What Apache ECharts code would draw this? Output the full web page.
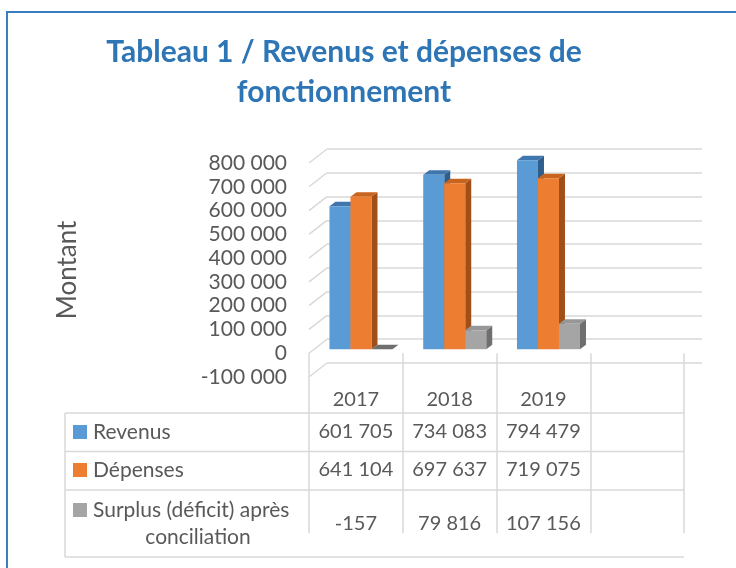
<!DOCTYPE html>
<html>
<head>
<meta charset="utf-8">
<title>Revenus et dépenses de fonctionnement</title>
<script src="https://cdn.jsdelivr.net/npm/echarts@6/dist/echarts.min.js"></script>
<style>
html, body { margin: 0; padding: 0; background: #fff; }
#chart { width: 736px; height: 568px; }
</style>
</head>
<body>
<div id="chart"></div>
<script>
// données du tableau
var years = ['2017', '2018', '2019', ''];
var revenus = [601705, 734083, 794479, null];
var depenses = [641104, 697637, 719075, null];
var surplus = [-157, 79816, 107156, null];
var yTicks = [-100000, 0, 100000, 200000, 300000, 400000, 500000, 600000, 700000, 800000];
var rowNames = ['Revenus', 'Dépenses', 'Surplus (déficit) après conciliation'];

var colors = ['#5b9bd5', '#ed7d31', '#a5a5a5'];
var tops = ['#3f76ad', '#c9641f', '#979797'];
var sides = ['#2f5e8d', '#a04f19', '#6f6f6f'];
var txt = '#595959';
var gridCol = '#d9d9d9';
var font = 'Lato';

// décalage 3D (face avant des barres, profondeur des barres)
var shiftX = -12.9, shiftY = 10;
var capX = 6, capY = -4.5;

function fmt(v) {
	if (v === null || v === undefined) return '';
	return String(v).replace(/\B(?=(\d{3})+(?!\d))/g, ' ');
}

function makeBar(k) {
	return function (params, api) {
		var v = api.value(1);
		if (v === null || isNaN(v)) return;
		var p = api.coord([api.value(0), v]);
		var b = api.coord([api.value(0), 0]);
		var band = api.size([1, 0])[0];
		var w = band * 0.224;
		var x0 = p[0] + shiftX - 1.5 * w + k * w;
		var x1 = x0 + w;
		var yt = Math.min(p[1], b[1]) + shiftY;
		var yb = Math.max(p[1], b[1]) + shiftY;
		return {
			type: 'group',
			children: [
				{type: 'polygon', shape: {points: [[x1, yt], [x1 + capX, yt + capY], [x1 + capX, yb + capY], [x1, yb]]}, style: {fill: sides[k]}},
				{type: 'polygon', shape: {points: [[x0, yt], [x1, yt], [x1 + capX, yt + capY], [x0 + capX, yt + capY]]}, style: {fill: v < 0 ? sides[k] : tops[k]}},
				{type: 'rect', shape: {x: x0, y: yt, width: w, height: yb - yt}, style: {fill: colors[k]}}
			]
		};
	};
}

function toData(arr) {
	var out = [];
	arr.forEach(function (v, i) { if (v !== null) out.push([i, v]); });
	return out;
}

var rows = [revenus, depenses, surplus];

var myChart = echarts.init(document.getElementById('chart'));

var option = {
	animation: false,
	backgroundColor: '#fff',
	textStyle: {fontFamily: font},
	title: {
		text: 'Tableau 1 / Revenus et dépenses de\nfonctionnement',
		left: 339,
		top: 27,
		textAlign: 'center',
		textStyle: {fontSize: 30, fontWeight: 'bold', color: '#2e75b6', lineHeight: 40, fontFamily: font}
	},
	grid: [
		// mur du fond
		{left: 327, right: 34, top: 149, bottom: 205},
		// plan avant (étiquettes + tableau)
		{left: 309, right: 52, top: 163, bottom: 191}
	],
	xAxis: [
		{gridIndex: 0, type: 'category', data: years, show: false},
		{
			gridIndex: 1, type: 'category', data: years, position: 'bottom',
			axisLine: {show: false},
			axisTick: {show: true, interval: 0, length: 180, lineStyle: {color: gridCol, width: 1.5}},
			axisLabel: {interval: 0, margin: 13, fontSize: 20, color: txt}
		}
	].concat(rows.map(function (r, i) {
		return {
			gridIndex: 1, type: 'category', data: years, position: 'bottom',
			offset: [32, 70, 124][i],
			axisLine: {show: false}, axisTick: {show: false},
			axisLabel: {interval: 0, margin: 13, fontSize: 20, color: txt,
				formatter: function (val, idx) { return fmt(r[idx]); }}
		};
	})),
	yAxis: [
		{
			gridIndex: 0, type: 'value', min: -100000, max: 800000, interval: 100000,
			axisLine: {show: false}, axisTick: {show: false}, axisLabel: {show: false},
			splitLine: {show: true, lineStyle: {color: gridCol, width: 1.5}}
		},
		{
			gridIndex: 1, type: 'value', min: -100000, max: 800000, interval: 100000,
			axisLine: {show: false}, axisTick: {show: false}, splitLine: {show: false},
			axisLabel: {margin: 22, fontSize: 21, color: txt, formatter: fmt},
			name: 'Montant', nameLocation: 'middle', nameGap: 228,
			nameTextStyle: {fontSize: 26, color: txt}
		}
	],
	graphic: [
		{type: 'rect', shape: {x: 7, y: 12, width: 800, height: 620}, style: {fill: 'none', stroke: '#3b7dc0', lineWidth: 2}},
		{type: 'line', shape: {x1: 65, y1: 413, x2: 684, y2: 413}, style: {stroke: gridCol, lineWidth: 1.5}},
		{type: 'line', shape: {x1: 65, y1: 451.5, x2: 684, y2: 451.5}, style: {stroke: gridCol, lineWidth: 1.5}},
		{type: 'line', shape: {x1: 65, y1: 490, x2: 684, y2: 490}, style: {stroke: gridCol, lineWidth: 1.5}},
		{type: 'line', shape: {x1: 65, y1: 557, x2: 684, y2: 557}, style: {stroke: gridCol, lineWidth: 1.5}},
		{type: 'line', shape: {x1: 65, y1: 413, x2: 65, y2: 557}, style: {stroke: gridCol, lineWidth: 1.5}},
		{type: 'rect', shape: {x: 73, y: 425, width: 14, height: 14}, style: {fill: colors[0]}},
		{type: 'text', x: 93, y: 432, style: {text: rowNames[0], fontSize: 21, fill: txt, fontFamily: font, verticalAlign: 'middle'}},
		{type: 'rect', shape: {x: 73, y: 463, width: 14, height: 14}, style: {fill: colors[1]}},
		{type: 'text', x: 93, y: 470, style: {text: rowNames[1], fontSize: 21, fill: txt, fontFamily: font, verticalAlign: 'middle'}},
		{type: 'rect', shape: {x: 73, y: 503, width: 14, height: 14}, style: {fill: colors[2]}},
		{type: 'text', x: 93, y: 510, style: {text: 'Surplus (déficit) après', fontSize: 21, fill: txt, fontFamily: font, verticalAlign: 'middle'}},
		{type: 'text', x: 198, y: 537, style: {text: 'conciliation', fontSize: 21, fill: txt, fontFamily: font, align: 'center', verticalAlign: 'middle'}}
	],
	series: [
		{
			// lignes obliques du côté gauche
			type: 'custom', xAxisIndex: 0, yAxisIndex: 0, silent: true, z: 1,
			data: yTicks.map(function (v) { return [0, v]; }),
			renderItem: function (params, api) {
				var p = api.coord([0, api.value(1)]);
				var band = api.size([1, 0])[0];
				var lx = p[0] - band / 2;
				return {type: 'line', shape: {x1: lx - 18, y1: p[1] + 14, x2: lx, y2: p[1]}, style: {stroke: gridCol, lineWidth: 1.5}};
			}
		}
	].concat(rows.map(function (r, k) {
		return {
			name: rowNames[k], type: 'custom', xAxisIndex: 0, yAxisIndex: 0, z: 2,
			data: toData(r),
			renderItem: makeBar(k)
		};
	}))
};

myChart.setOption(option);
</script>
</body>
</html>
